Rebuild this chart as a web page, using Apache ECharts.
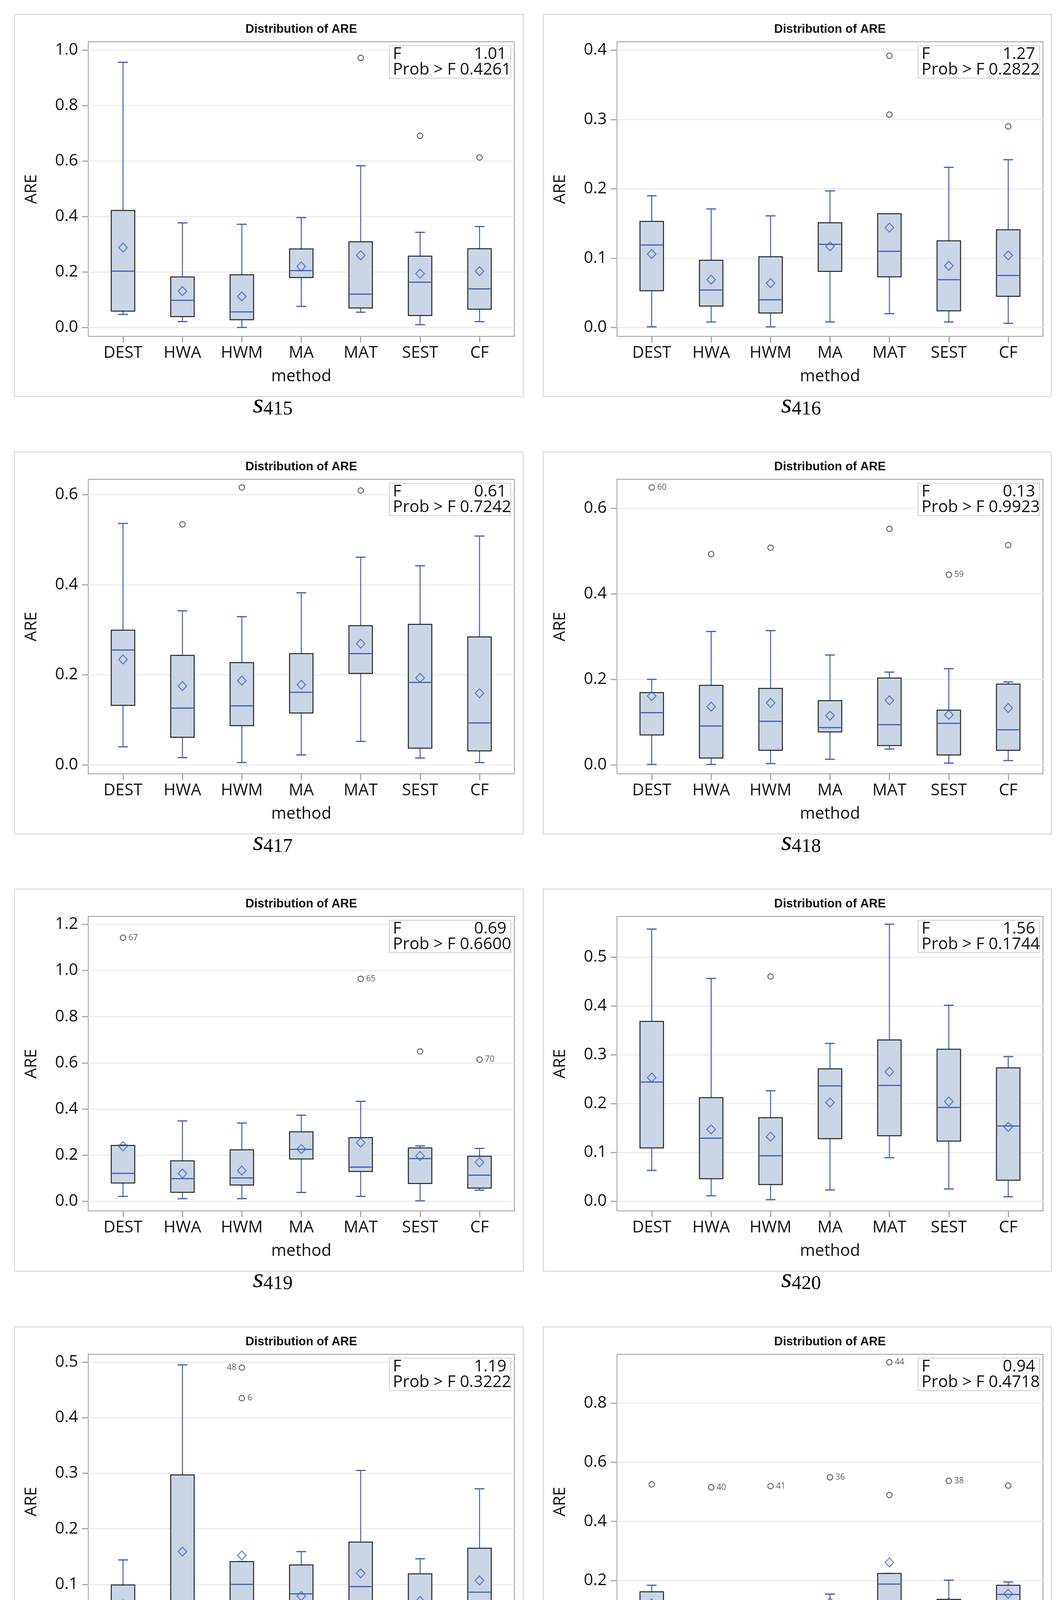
<!DOCTYPE html>
<html><head><meta charset="utf-8">
<script src="https://cdn.jsdelivr.net/npm/echarts@6/dist/echarts.min.js"></script>
<style>html,body{margin:0;padding:0;background:#fff}#c{width:2712px;height:5558px}</style>
</head><body><div id="c"></div>
<script>
// ---------------- DATA ----------------
const categories = ['DEST', 'HWA', 'HWM', 'MA', 'MAT', 'SEST', 'CF'];
const panelIds = ['415', '416', '417', '418', '419', '420', '421', '422', '423'];

// each row: [min whisker, Q1, median, Q3, max whisker]
const box415 = [[0.047,0.059,0.203,0.422,0.956],[0.021,0.039,0.098,0.182,0.377],[0.000,0.028,0.056,0.190,0.372],[0.076,0.180,0.205,0.283,0.396],[0.055,0.070,0.120,0.309,0.583],[0.010,0.043,0.163,0.257,0.343],[0.021,0.066,0.139,0.284,0.364]];
const mean415 = [0.288,0.131,0.112,0.220,0.260,0.194,0.203];
const out415 = [[4,0.972,''],[5,0.691,''],[6,0.613,'']];

const box416 = [[0.001,0.053,0.119,0.153,0.190],[0.008,0.031,0.054,0.097,0.171],[0.001,0.021,0.040,0.102,0.161],[0.008,0.081,0.120,0.151,0.197],[0.020,0.073,0.110,0.164,0.164],[0.008,0.024,0.069,0.125,0.231],[0.006,0.045,0.075,0.141,0.242]];
const mean416 = [0.106,0.069,0.064,0.117,0.144,0.089,0.104];
const out416 = [[4,0.392,''],[4,0.307,''],[6,0.290,'']];

const box417 = [[0.040,0.132,0.255,0.299,0.536],[0.016,0.061,0.126,0.243,0.342],[0.005,0.087,0.131,0.227,0.329],[0.022,0.115,0.161,0.247,0.382],[0.052,0.203,0.247,0.309,0.461],[0.015,0.037,0.183,0.312,0.442],[0.005,0.031,0.093,0.284,0.508]];
const mean417 = [0.234,0.175,0.187,0.178,0.269,0.193,0.159];
const out417 = [[1,0.534,''],[2,0.616,''],[4,0.609,'']];

const box418 = [[0.001,0.070,0.122,0.169,0.200],[0.001,0.016,0.091,0.186,0.312],[0.003,0.034,0.102,0.179,0.314],[0.013,0.077,0.087,0.150,0.257],[0.037,0.045,0.094,0.203,0.217],[0.004,0.023,0.097,0.128,0.225],[0.010,0.034,0.082,0.189,0.194]];
const mean418 = [0.161,0.136,0.145,0.115,0.151,0.117,0.133];
const out418 = [[0,0.649,'60'],[1,0.493,''],[2,0.508,''],[4,0.552,''],[5,0.445,'59'],[6,0.514,'']];

const box419 = [[0.021,0.079,0.121,0.242,0.243],[0.011,0.039,0.098,0.175,0.348],[0.011,0.070,0.101,0.223,0.339],[0.038,0.183,0.225,0.301,0.373],[0.021,0.129,0.148,0.276,0.433],[0.002,0.077,0.185,0.231,0.240],[0.048,0.057,0.113,0.195,0.229]];
const mean419 = [0.238,0.120,0.133,0.226,0.254,0.196,0.169];
const out419 = [[0,1.142,'67'],[4,0.964,'65'],[5,0.649,''],[6,0.614,'70']];

const box420 = [[0.063,0.109,0.244,0.368,0.557],[0.011,0.046,0.129,0.212,0.456],[0.003,0.034,0.093,0.171,0.226],[0.023,0.128,0.236,0.271,0.323],[0.089,0.134,0.237,0.330,0.567],[0.025,0.123,0.192,0.311,0.401],[0.009,0.043,0.154,0.273,0.296]];
const mean420 = [0.253,0.147,0.132,0.202,0.265,0.204,0.152];
const out420 = [[2,0.460,'']];

const box421 = [[0.010,0.021,0.060,0.099,0.144],[0.004,0.019,0.069,0.297,0.495],[0.002,0.048,0.100,0.141,0.141],[0.004,0.031,0.083,0.135,0.159],[0.005,0.041,0.096,0.176,0.305],[0.001,0.035,0.063,0.119,0.146],[0.026,0.029,0.086,0.165,0.272]];
const mean421 = [0.064,0.159,0.152,0.079,0.120,0.070,0.107];
const out421 = [[2,0.490,'48'],[2,0.435,'6']];

const box422 = [[0.009,0.023,0.073,0.162,0.184],[0.029,0.046,0.086,0.109,0.109],[0.009,0.053,0.081,0.108,0.123],[0.013,0.054,0.084,0.119,0.154],[0.073,0.099,0.188,0.224,0.224],[0.004,0.034,0.087,0.136,0.201],[0.018,0.060,0.153,0.184,0.195]];
const mean422 = [0.122,0.117,0.118,0.126,0.261,0.126,0.155];
const out422 = [[0,0.525,''],[1,0.515,'40'],[2,0.519,'41'],[3,0.549,'36'],[4,0.938,'44'],[4,0.489,''],[5,0.537,'38'],[6,0.521,'']];

const box423 = [[0.019,0.083,0.104,0.147,0.240],[0.024,0.071,0.109,0.237,0.294],[0.032,0.053,0.104,0.199,0.285],[0.024,0.037,0.087,0.132,0.164],[0.006,0.059,0.120,0.257,0.370],[0.002,0.073,0.103,0.208,0.266],[0.032,0.062,0.096,0.151,0.263]];
const mean423 = [0.127,0.142,0.129,0.101,0.158,0.123,0.118];
const out423 = [[0,0.268,''],[3,0.286,'']];

const fStat = ['1.01', '1.27', '0.61', '0.13', '0.69', '1.56', '1.19', '0.94', '0.36'];
const pValue = ['0.4261', '0.2822', '0.7242', '0.9923', '0.6600', '0.1744', '0.3222', '0.4718', '0.9013'];

const yTicks415 = [0, 0.2, 0.4, 0.6, 0.8, 1.0];
const yTicks416 = [0, 0.1, 0.2, 0.3, 0.4];
const yTicks417 = [0, 0.2, 0.4, 0.6];
const yTicks418 = [0, 0.2, 0.4, 0.6];
const yTicks419 = [0, 0.2, 0.4, 0.6, 0.8, 1.0, 1.2];
const yTicks420 = [0, 0.1, 0.2, 0.3, 0.4, 0.5];
const yTicks421 = [0, 0.1, 0.2, 0.3, 0.4, 0.5];
const yTicks422 = [0, 0.2, 0.4, 0.6, 0.8];
const yTicks423 = [0, 0.1, 0.2, 0.3];
const yMin = [-0.032, -0.0127, -0.020, -0.021, -0.042, -0.020, -0.016, -0.031, -0.012];
const yMax = [1.030, 0.412, 0.634, 0.668, 1.2345, 0.583, 0.514, 0.965, 0.381];

const leftLabels = ['48'];

const boxes = [box415, box416, box417, box418, box419, box420, box421, box422, box423];
const means = [mean415, mean416, mean417, mean418, mean419, mean420, mean421, mean422, mean423];
const outs = [out415, out416, out417, out418, out419, out420, out421, out422, out423];
const yTicks = [yTicks415, yTicks416, yTicks417, yTicks418, yTicks419, yTicks420, yTicks421, yTicks422, yTicks423];

// ---------------- LAYOUT / STYLE ----------------
const BLUE = '#3a5fc2';
const FONT = 'Open Sans';
const rowTops = [37, 1157, 2276, 3397, 4513];
const PH = 978;
function panelRect(i) {
  if (i === 8) return { x: 713, y: rowTops[4], w: 1305, h: PH };
  const col = i % 2, row = Math.floor(i / 2);
  return { x: col ? 1391 : 37, y: rowTops[row], w: col ? 1301 : 1303, h: PH };
}

function renderBox(params, api) {
  const x = api.value(0);
  const unit = api.size([1, 0])[0];
  const bw = unit * 0.395, cw = unit * 0.165;
  const pMin = api.coord([x, api.value(1)]);
  const pQ1 = api.coord([x, api.value(2)]);
  const pMed = api.coord([x, api.value(3)]);
  const pQ3 = api.coord([x, api.value(4)]);
  const pMax = api.coord([x, api.value(5)]);
  const cx = pMin[0];
  return {
    type: 'group',
    children: [
      { type: 'line', shape: { x1: cx, y1: pQ3[1], x2: cx, y2: pMax[1] }, style: { stroke: BLUE, lineWidth: 2.5 } },
      { type: 'line', shape: { x1: cx, y1: pQ1[1], x2: cx, y2: pMin[1] }, style: { stroke: BLUE, lineWidth: 2.5 } },
      { type: 'line', shape: { x1: cx - cw / 2, y1: pMax[1], x2: cx + cw / 2, y2: pMax[1] }, style: { stroke: BLUE, lineWidth: 3 } },
      { type: 'line', shape: { x1: cx - cw / 2, y1: pMin[1], x2: cx + cw / 2, y2: pMin[1] }, style: { stroke: BLUE, lineWidth: 3 } },
      { type: 'rect', shape: { x: cx - bw / 2, y: pQ3[1], width: bw, height: pQ1[1] - pQ3[1] }, style: { fill: '#cad5e5', stroke: '#222', lineWidth: 2.5 } },
      { type: 'line', shape: { x1: cx - bw / 2 + 2, y1: pMed[1], x2: cx + bw / 2 - 2, y2: pMed[1] }, style: { stroke: BLUE, lineWidth: 3 } }
    ]
  };
}

const grids = [], xAxes = [], yAxes = [], series = [], graphics = [];
const catIdx = categories.map((c, i) => i);

panelIds.forEach((id, i) => {
  const r = panelRect(i);
  const gl = r.x + 189, gt = r.y + 70, gw = 1091, gh = 754;
  grids.push({ left: gl, top: gt, width: gw, height: gh, show: true, borderColor: '#9a9a9a', borderWidth: 2, backgroundColor: 'transparent', containLabel: false, outerBoundsMode: 'none' });
  xAxes.push({
    gridIndex: i, type: 'value', min: -0.585, max: 6.585, position: 'bottom',
    axisLine: { show: false, onZero: false },
    axisTick: { show: true, customValues: catIdx, length: 16, lineStyle: { color: '#a8a8a8', width: 3 } },
    axisLabel: { customValues: catIdx, formatter: v => categories[Math.round(v)], fontSize: 42, fontFamily: FONT, color: '#111', margin: 22 },
    splitLine: { show: false },
    name: 'method', nameLocation: 'middle', nameGap: 82,
    nameTextStyle: { fontSize: 42, fontFamily: FONT, color: '#111' }
  });
  yAxes.push({
    gridIndex: i, type: 'value', min: yMin[i], max: yMax[i], position: 'left',
    axisLine: { show: false, onZero: false },
    axisTick: { show: true, customValues: yTicks[i], length: 16, lineStyle: { color: '#a8a8a8', width: 3 } },
    axisLabel: { customValues: yTicks[i], formatter: v => v.toFixed(1), fontSize: 42, fontFamily: FONT, color: '#111', margin: 26 },
    splitLine: { show: true, lineStyle: { color: '#ececec', width: 3 } },
    name: 'ARE', nameLocation: 'middle', nameRotate: 90, nameGap: 124,
    nameTextStyle: { fontSize: 42, fontFamily: FONT, color: '#111' }
  });
  series.push({
    type: 'custom', xAxisIndex: i, yAxisIndex: i, renderItem: renderBox, clip: false, z: 2,
    encode: { x: 0, y: [1, 2, 3, 4, 5] },
    data: boxes[i].map((b, k) => [k].concat(b))
  });
  series.push({
    type: 'scatter', xAxisIndex: i, yAxisIndex: i, z: 3,
    symbol: 'diamond', symbolSize: [22, 23],
    itemStyle: { color: 'rgba(0,0,0,0)', borderColor: BLUE, borderWidth: 2.5 },
    data: means[i].map((m, k) => [k, m])
  });
  series.push({
    type: 'scatter', xAxisIndex: i, yAxisIndex: i, z: 3,
    symbol: 'circle', symbolSize: 14,
    itemStyle: { color: 'rgba(0,0,0,0)', borderColor: '#2a2a2a', borderWidth: 2.2 },
    data: outs[i].map(o => ({
      value: [o[0], o[1]],
      label: {
        show: o[2] !== '', formatter: o[2],
        position: leftLabels.includes(o[2]) ? 'left' : 'right', distance: 6,
        fontSize: 21, fontFamily: FONT, color: '#333'
      }
    }))
  });

  // panel frame
  graphics.push({ type: 'rect', shape: { x: r.x, y: r.y, width: r.w, height: r.h }, style: { fill: 'none', stroke: '#d2d2d2', lineWidth: 2 }, z: 1 });
  // title
  graphics.push({ type: 'text', x: gl + gw / 2, y: r.y + 38, style: { text: 'Distribution of ARE', fontSize: 31, fontWeight: 'bold', fontFamily: 'Liberation Sans', fill: '#111', align: 'center', verticalAlign: 'middle' }, z: 5 });
  // stats box
  const bx = gl + gw - 9 - 311, by = gt + 10;
  graphics.push({ type: 'rect', shape: { x: bx, y: by, width: 311, height: 83 }, style: { fill: '#fff', stroke: '#cfcfcf', lineWidth: 2 }, z: 10 });
  graphics.push({ type: 'text', x: bx + 9, y: by + 22, style: { text: 'F', fontSize: 42, fontFamily: FONT, fill: '#111', align: 'left', verticalAlign: 'middle' }, z: 11 });
  graphics.push({ type: 'text', x: bx + 300, y: by + 22, style: { text: fStat[i], fontSize: 42, fontFamily: FONT, fill: '#111', align: 'right', verticalAlign: 'middle' }, z: 11 });
  graphics.push({ type: 'text', x: bx + 9, y: by + 62, style: { text: 'Prob > F ' + pValue[i], fontSize: 42, fontFamily: FONT, fill: '#111', align: 'left', verticalAlign: 'middle' }, z: 11 });
  // caption s_xxx
  graphics.push({
    type: 'text', x: r.x + r.w / 2 + 10, y: r.y + r.h - 12,
    style: {
      text: '{s|s}{n|' + id + '}', align: 'center', verticalAlign: 'top',
      rich: {
        s: { fontSize: 70, fontStyle: 'italic', fontFamily: 'Liberation Serif', fill: '#000', lineHeight: 70, padding: [0, 0, 8, 0], verticalAlign: 'top' },
        n: { fontSize: 50, fontFamily: 'Liberation Serif', fill: '#000', lineHeight: 50, verticalAlign: 'bottom' }
      }
    }, z: 5
  });
});

const chart = echarts.init(document.getElementById('c'), null, { renderer: 'canvas' });
chart.setOption({
  animation: false,
  backgroundColor: '#fff',
  grid: grids, xAxis: xAxes, yAxis: yAxes, series: series,
  graphic: graphics
});
</script></body></html>
